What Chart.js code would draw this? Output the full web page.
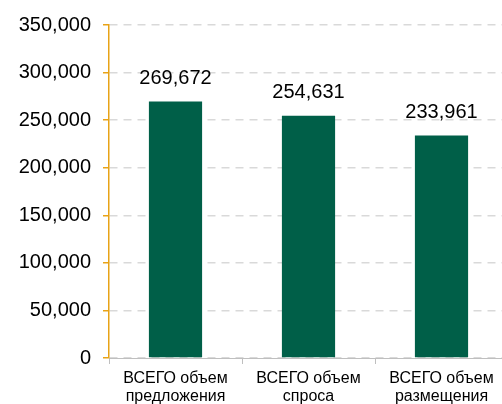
<!DOCTYPE html>
<html>
<head>
<meta charset="utf-8">
<script src="https://cdn.jsdelivr.net/npm/chart.js@4"></script>
<style>
	body { margin: 0; overflow: hidden; background: #fff; }
	#wrap { width: 508px; height: 404px; }
</style>
</head>
<body>
<div id="wrap"><canvas id="volumeChart" width="508" height="404"></canvas></div>
<script>
// values
const categories = [["ВСЕГО объем", "предложения"], ["ВСЕГО объем", "спроса"], ["ВСЕГО объем", "размещения"]];
const volumes = [269672, 254631, 233961];
const yTicks = [0, 50000, 100000, 150000, 200000, 250000, 300000, 350000];

const fmt = (v) => v.toLocaleString("en-US");

// Draw the value above each bar
const valueLabels = {
	id: "valueLabels",
	afterDatasetsDraw(chart) {
		const ctx = chart.ctx;
		ctx.save();
		ctx.font = "20px 'Liberation Sans', Arial, sans-serif";
		ctx.fillStyle = "#000";
		ctx.textAlign = "center";
		ctx.textBaseline = "middle";
		chart.getDatasetMeta(0).data.forEach((bar, i) => {
			ctx.fillText(fmt(volumes[i]), bar.x, bar.y - 23);
		});
		ctx.restore();
	},
};

const ctx = document.getElementById("volumeChart").getContext("2d");
const volumeChart = new Chart(ctx, {
	type: "bar",
	data: {
		labels: categories,
		datasets: [
			{
				data: volumes,
				backgroundColor: "#005F48",
				categoryPercentage: 1,
				barPercentage: 0.4,
			},
		],
	},
	options: {
		responsive: false,
		animation: false,
		layout: { padding: { top: 25, right: 0, bottom: 0, left: 0 } },
		plugins: {
			legend: { display: false },
			tooltip: { enabled: false },
		},
		scales: {
			x: {
				afterFit: (scale) => { scale.height = 46; },
				border: { color: "#BFBFBF", width: 1 },
				grid: { drawOnChartArea: false, drawTicks: true, tickLength: 6, tickColor: "#BFBFBF", offset: true },
				ticks: {
					color: "#000",
					padding: 6,
					maxRotation: 0,
					font: { family: "'Liberation Sans', Arial, sans-serif", size: 16, lineHeight: 1.1 },
				},
			},
			y: {
				min: 0,
				max: 350000,
				afterFit: (scale) => { scale.width = 109; },
				afterBuildTicks: (scale) => { scale.ticks = yTicks.map((v) => ({ value: v })); },
				border: { color: "#E8A317", width: 1.5, dash: [8, 6] },
				grid: { color: "#D9D9D9", lineWidth: 1.5, drawTicks: true, tickLength: 6, tickColor: "#E8A317", tickWidth: 1.5 },
				ticks: {
					color: "#000",
					padding: 12,
					callback: (v) => fmt(v),
					font: { family: "'Liberation Sans', Arial, sans-serif", size: 20 },
				},
			},
		},
	},
	plugins: [valueLabels],
});
</script>
</body>
</html>
